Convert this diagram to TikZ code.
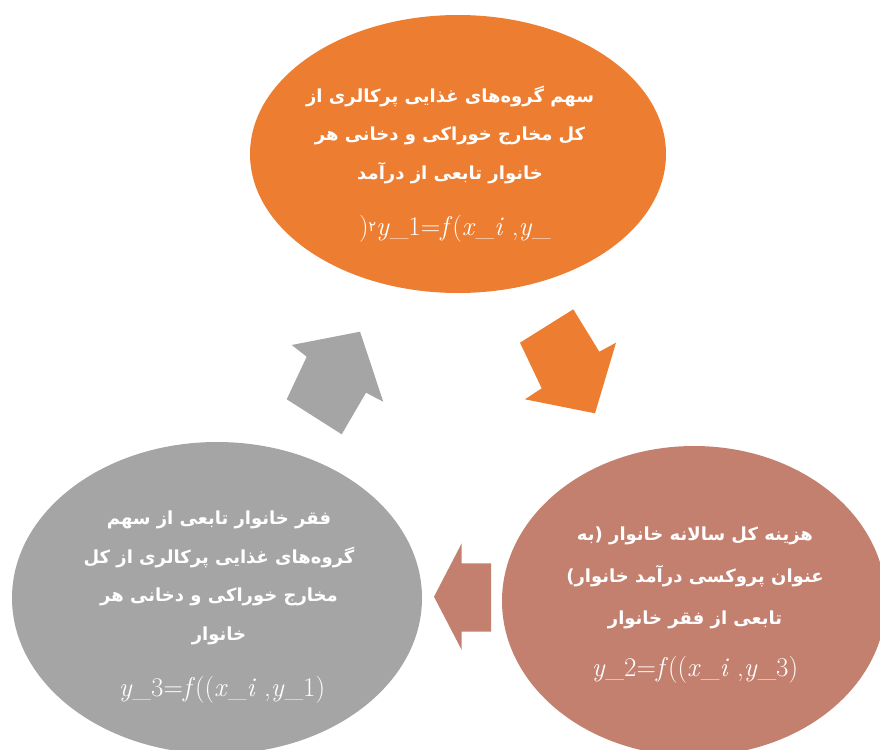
\documentclass[tikz,border=0pt]{standalone}
\usepackage{fontspec}
\usetikzlibrary{shapes.geometric}
\TeXXeTstate=1
\newfontfamily\arabicfont[Script=Arabic]{DejaVu Sans}
\definecolor{orangeC}{HTML}{ED7D31}
\definecolor{grayC}{HTML}{A5A5A5}
\definecolor{brownC}{HTML}{C4806F}
\begin{document}
\begin{tikzpicture}[x=1pt,y=-1pt,
  blob/.style={ellipse, inner sep=0pt, draw=none},
  txt/.style={text=white, align=center, anchor=base, font=\arabicfont\bfseries\fontsize{18}{38.5}\selectfont},
  frm/.style={text=white, anchor=base, font=\rmfamily\fontsize{27}{30}\selectfont}]
\useasboundingbox (0,0) rectangle (880,749);
\clip (0,0) rectangle (880,749);
% ellipses
\node[blob, fill=orangeC, minimum width=416pt, minimum height=278pt] (top) at (458,154) {};
\node[blob, fill=grayC, minimum width=410pt, minimum height=312pt] (left) at (217,598) {};
\node[blob, fill=brownC, minimum width=384pt, minimum height=310pt] (right) at (694,601) {};
% texts
\node[txt] (t1) at (450,179) {\beginR سهم گروه‌های غذایی پرکالری از\endR\\
\beginR کل مخارج خوراکی و دخانی هر\endR\\
\beginR خانوار تابعی از درآمد\endR};
\node[frm] (f1) at (455,235) {)\raisebox{4pt}{\arabicfont\fontsize{14}{15}\selectfont ۲}\textit{y}\_1=\textit{f}(\textit{x}\_\textit{i}\ ,\textit{y}\_};
\node[txt] (t3) at (219,640) {\beginR فقر خانوار تابعی از سهم\endR\\
\beginR گروه‌های غذایی پرکالری از کل\endR\\
\beginR مخارج خوراکی و دخانی هر\endR\\
\beginR خانوار\endR};
\node[frm] (f3) at (222,696) {\textit{y}\_3=\textit{f}((\textit{x}\_\textit{i}\ ,\textit{y}\_1)};
\node[txt, font=\arabicfont\bfseries\fontsize{18}{42}\selectfont] (t2) at (695,624) {\beginR هزینه کل سالانه خانوار (به\endR\\
\beginR عنوان پروکسی درآمد خانوار)\endR\\
\beginR تابعی از فقر خانوار\endR};
\node[frm] (f2) at (695,676) {\textit{y}\_2=\textit{f}((\textit{x}\_\textit{i}\ ,\textit{y}\_3)};
% block arrows
\fill[orangeC] (573.3,309.3) -- (599.3,351.7) -- (616,342.7) -- (595,413.3) -- (525,399.3) -- (541.7,388.3) -- (520,342.7) -- cycle;
\fill[brownC] (434,596.7) -- (461.7,543.3) -- (461.7,563.3) -- (491,563.3) -- (491,631.7) -- (461.7,631.7) -- (461.7,650) -- cycle;
\fill[grayC] (291.7,345) -- (360,331.7) -- (383.3,401.7) -- (366,392.7) -- (341.7,434.3) -- (286.7,399.3) -- (306.7,356.7) -- cycle;
\end{tikzpicture}
\end{document}
